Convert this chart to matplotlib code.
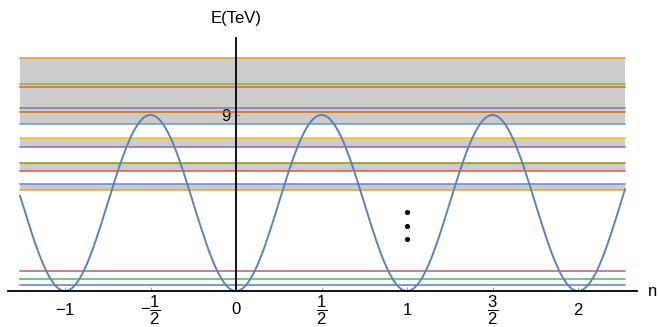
import numpy as np
import matplotlib
matplotlib.use("Agg")
import matplotlib.pyplot as plt

# level energies (TeV), top to bottom, with Mathematica-style colours
levels = [11.90, 10.57, 10.45, 9.34, 9.14, 8.54, 7.84, 7.35, 6.54, 6.15, 5.45, 5.16, 1.01, 0.61, 0.29]
level_colors = ["#E19C24", "#8FB032", "#EB6235", "#8778B3", "#C56E1A", "#5D9EC7", "#FFBF00",
                "#A5609D", "#929600", "#E95536", "#6685D9", "#F89F13", "#BC5B80", "#47B66D", "#5E81B5"]
# shaded bands (low, high)
bands = [(8.54, 11.90), (7.35, 7.84), (6.15, 6.54), (5.16, 5.45)]
peak = 9.0
n_range = (-1.263, 2.275)
dots_n = [1, 1, 1]
dots_e = [4.04, 3.32, 2.66]

xticks = [-1, -0.5, 0.5, 1, 1.5, 2]
xtick_labels = ["$-1$", r"$-\dfrac{1}{2}$", r"$\dfrac{1}{2}$", "$1$", r"$\dfrac{3}{2}$", "$2$"]

plt.rcParams["font.family"] = ["Liberation Sans", "DejaVu Sans"]
plt.rcParams["mathtext.fontset"] = "custom"
plt.rcParams["mathtext.rm"] = "Liberation Sans"
plt.rcParams["mathtext.it"] = "Liberation Sans"

fig = plt.figure(figsize=(6.58, 3.27), dpi=100)
ax = fig.add_axes([0, 0, 1, 1])
# pixel mapping: x_px = 236 + 171 n, y_px = 291 - 19.56 E
ax.set_xlim(-236 / 171, 422 / 171)
ax.set_ylim(-36 / 19.56, 291 / 19.56)

for lo, hi in bands:
    ax.fill_between(n_range, lo, hi, color="#cccccc", lw=0, zorder=1)
for e, c in zip(levels, level_colors):
    ax.plot(n_range, [e, e], color=c, lw=1.1, zorder=2)

n = np.linspace(n_range[0], n_range[1], 800)
ax.plot(n, peak * np.sin(np.pi * n) ** 2, color="#5E81B5", lw=1.4, zorder=3)
ax.scatter(dots_n, dots_e, s=7, color="black", zorder=4)

for s in ["top", "right"]:
    ax.spines[s].set_visible(False)
ax.spines["left"].set_position(("data", 0))
ax.spines["bottom"].set_position(("data", 0))
ax.spines["left"].set_bounds(0, 253 / 19.56)
ax.spines["bottom"].set_bounds(-228 / 171, 401 / 171)
for s in ["left", "bottom"]:
    ax.spines[s].set_linewidth(1.3)
    ax.spines[s].set_zorder(5)

# tick marks only; labels drawn as centred texts so fractions fit
ax.set_xticks(xticks, [""] * len(xticks))
ax.set_yticks([peak], ["9"], fontsize=12)
ax.tick_params(axis="x", direction="in", length=3, width=0.6, color="#888888")
ax.tick_params(axis="y", direction="in", length=3, width=0.6, color="#888888", pad=4)
label_y = -19 / 19.56
for xv, lab in zip(xticks, xtick_labels):
    fs = 12 if "frac" not in lab else 12
    ax.text(xv, label_y, lab, ha="center", va="center", fontsize=fs)
ax.text(0, label_y, "0", ha="center", va="center", fontsize=12)
ax.text(0, 272 / 19.56, "E(TeV)", ha="center", va="center", fontsize=12)
ax.text(412 / 171, -1 / 19.56, "n", ha="left", va="center", fontsize=12)

fig.savefig("out.png", dpi=100)
